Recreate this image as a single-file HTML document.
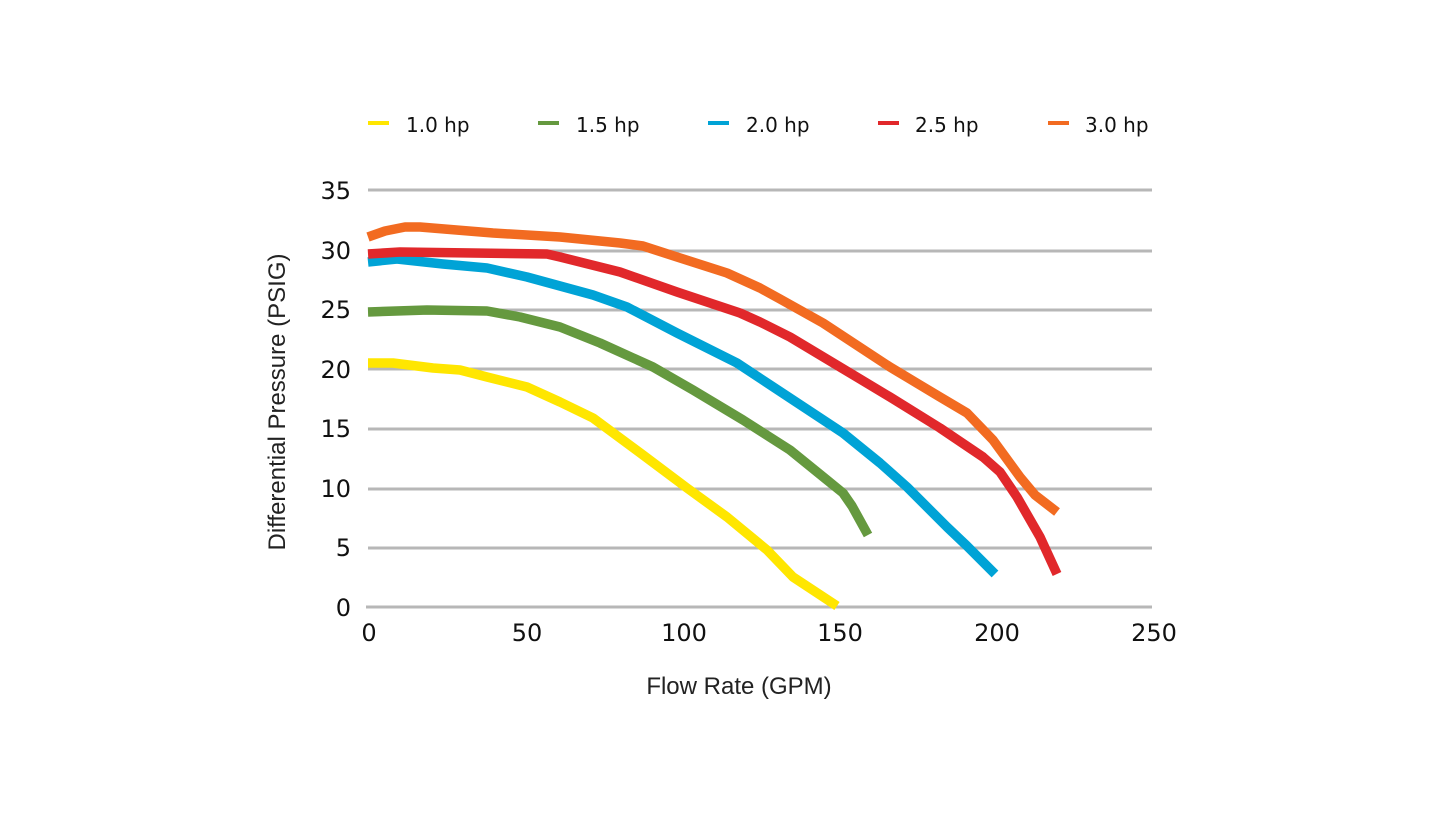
<!DOCTYPE html>
<html>
<head>
<meta charset="utf-8">
<style>
  html, body { margin:0; padding:0; background:#ffffff; }
  body { width:1445px; height:813px; overflow:hidden; }
  svg { display:block; }
  .tick { font-family:"DejaVu Sans","Liberation Sans",sans-serif; font-size:24px; fill:#111; }
  .leg { font-family:"DejaVu Sans","Liberation Sans",sans-serif; font-size:20px; fill:#111; }
  .title { font-family:"Liberation Sans",sans-serif; font-size:24px; fill:#222; }
</style>
</head>
<body>
<svg width="1445" height="813" viewBox="0 0 1445 813" xmlns="http://www.w3.org/2000/svg">
  <rect width="1445" height="813" fill="#ffffff"/>

  <!-- Legend -->
  <g stroke-width="4">
    <line x1="368" y1="123" x2="389" y2="123" stroke="#ffe600"/>
    <line x1="538" y1="123" x2="559" y2="123" stroke="#65993f"/>
    <line x1="708" y1="123" x2="729" y2="123" stroke="#00a3d6"/>
    <line x1="878" y1="123" x2="899" y2="123" stroke="#e1282b"/>
    <line x1="1048" y1="123" x2="1069" y2="123" stroke="#f26b21"/>
  </g>
  <text class="leg" x="406" y="132">1.0 hp</text>
  <text class="leg" x="576" y="132">1.5 hp</text>
  <text class="leg" x="746" y="132">2.0 hp</text>
  <text class="leg" x="915" y="132">2.5 hp</text>
  <text class="leg" x="1085" y="132">3.0 hp</text>

  <!-- Gridlines -->
  <g stroke="#b7b7b7" stroke-width="3">
    <line x1="368" y1="190" x2="1152" y2="190"/>
    <line x1="368" y1="251" x2="1152" y2="251"/>
    <line x1="368" y1="310" x2="1152" y2="310"/>
    <line x1="368" y1="369" x2="1152" y2="369"/>
    <line x1="368" y1="429" x2="1152" y2="429"/>
    <line x1="368" y1="489" x2="1152" y2="489"/>
    <line x1="368" y1="548" x2="1152" y2="548"/>
    <line x1="366" y1="607" x2="1152" y2="607"/>
  </g>

  <!-- Y tick labels -->
  <g class="tick" text-anchor="end">
    <text x="351" y="199">35</text>
    <text x="351" y="259">30</text>
    <text x="351" y="318">25</text>
    <text x="351" y="378">20</text>
    <text x="351" y="437">15</text>
    <text x="351" y="497">10</text>
    <text x="351" y="556">5</text>
    <text x="351" y="616">0</text>
  </g>

  <!-- X tick labels -->
  <g class="tick" text-anchor="middle">
    <text x="369" y="641">0</text>
    <text x="527" y="641">50</text>
    <text x="684" y="641">100</text>
    <text x="840" y="641">150</text>
    <text x="997" y="641">200</text>
    <text x="1154" y="641">250</text>
  </g>

  <!-- Axis titles -->
  <text class="title" x="739" y="694" text-anchor="middle">Flow Rate (GPM)</text>
  <text class="title" transform="translate(285,402) rotate(-90)" text-anchor="middle">Differential Pressure (PSIG)</text>

  <!-- Series -->
  <g fill="none" stroke-width="9.5" stroke-linejoin="round" stroke-linecap="butt">
    <!-- 1.0 hp -->
    <polyline stroke="#ffe600" points="368,363 393,363 433,368 460,370 487,377 527,387 560,402 593,418 643,455 687,488 727,517 767,550 793,577 837,606"/>
    <!-- 1.5 hp -->
    <polyline stroke="#65993f" points="368,312 427,310 487,311 520,317 560,327 600,343 653,367 693,390 743,420 790,450 827,480 843,493 852,506 868,535"/>
    <!-- 2.0 hp -->
    <polyline stroke="#00a3d6" points="368,262 397,259 443,264 487,268 527,277 593,295 627,307 677,333 737,363 793,400 843,433 880,463 907,487 947,527 967,546 995,574"/>
    <!-- 2.5 hp -->
    <polyline stroke="#e1282b" points="368,254 400,252 547,254 560,257 620,272 677,292 710,303 740,313 760,322 790,337 840,367 890,397 940,428 983,457 1000,472 1017,497 1040,537 1057,574"/>
    <!-- 3.0 hp -->
    <polyline stroke="#f26b21" points="368,237 385,231 405,227 420,227 493,233 560,237 620,243 643,246 677,257 727,273 760,288 780,299 823,323 890,367 940,397 967,413 993,440 1020,477 1035,495 1057,512"/>
  </g>
</svg>
</body>
</html>
